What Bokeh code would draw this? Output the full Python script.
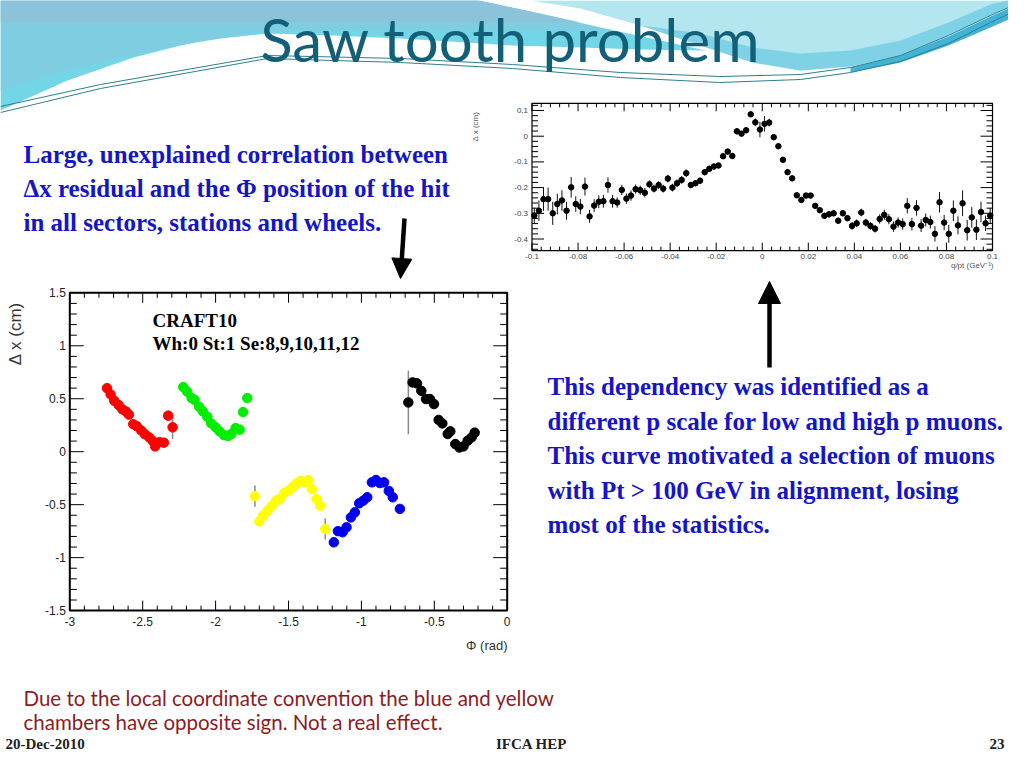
import numpy as np
from bokeh.plotting import figure
from bokeh.models import Range1d, ColumnDataSource, Arrow, NormalHead
from bokeh.core.properties import value
from bokeh.embed import file_html
from bokeh.resources import INLINE

# ---------------- data: top-right plot (mean dx residual vs q/pt) ----------------
qpt = [-0.099, -0.097, -0.095, -0.093, -0.091, -0.089, -0.087, -0.085, -0.083, -0.081,
       -0.079, -0.077, -0.075, -0.073, -0.071, -0.069, -0.067, -0.065, -0.063, -0.061,
       -0.059, -0.057, -0.055, -0.053, -0.051, -0.049, -0.047, -0.045, -0.043, -0.041,
       -0.039, -0.037, -0.035, -0.033, -0.031, -0.029, -0.027, -0.025, -0.023, -0.021,
       -0.019, -0.017, -0.015, -0.013, -0.011, -0.009, -0.007, -0.005, -0.003, -0.001,
       0.001, 0.003, 0.005, 0.007, 0.009, 0.011, 0.013, 0.015, 0.017, 0.019,
       0.021, 0.023, 0.025, 0.027, 0.029, 0.031, 0.033, 0.035, 0.037, 0.039,
       0.041, 0.043, 0.045, 0.047, 0.049, 0.051, 0.053, 0.055, 0.057, 0.059,
       0.061, 0.063, 0.065, 0.067, 0.069, 0.071, 0.073, 0.075, 0.077, 0.079,
       0.081, 0.083, 0.085, 0.087, 0.089, 0.091, 0.093, 0.095, 0.097, 0.099]
dx_qpt = [-0.309, -0.290, -0.245, -0.245, -0.300, -0.264, -0.250, -0.290, -0.199, -0.264,
          -0.274, -0.196, -0.312, -0.270, -0.255, -0.253, -0.190, -0.253, -0.258, -0.209,
          -0.243, -0.231, -0.206, -0.210, -0.220, -0.187, -0.204, -0.190, -0.204, -0.165,
          -0.200, -0.183, -0.170, -0.144, -0.190, -0.183, -0.173, -0.140, -0.127, -0.118,
          -0.114, -0.078, -0.060, -0.077, 0.019, 0.010, 0.023, 0.085, 0.054, 0.026,
          0.048, 0.053, -0.004, -0.039, -0.092, -0.140, -0.164, -0.230, -0.248, -0.231,
          -0.231, -0.271, -0.288, -0.310, -0.304, -0.300, -0.329, -0.300, -0.319, -0.349,
          -0.339, -0.297, -0.336, -0.349, -0.360, -0.322, -0.306, -0.323, -0.352, -0.336,
          -0.342, -0.271, -0.342, -0.279, -0.348, -0.326, -0.334, -0.380, -0.257, -0.336,
          -0.380, -0.290, -0.347, -0.261, -0.366, -0.316, -0.364, -0.295, -0.339, -0.309]
err_qpt = [0.030, 0.040, 0.045, 0.045, 0.045, 0.040, 0.040, 0.035, 0.040, 0.030,
           0.030, 0.035, 0.025, 0.025, 0.025, 0.025, 0.030, 0.025, 0.020, 0.020,
           0.020, 0.020, 0.018, 0.018, 0.018, 0.015, 0.015, 0.015, 0.015, 0.015,
           0.015, 0.015, 0.015, 0.015, 0.012, 0.012, 0.012, 0.012, 0.012, 0.012,
           0.010, 0.010, 0.010, 0.010, 0.012, 0.010, 0.010, 0.010, 0.015, 0.030,
           0.030, 0.015, 0.010, 0.010, 0.010, 0.010, 0.010, 0.010, 0.010, 0.010,
           0.010, 0.010, 0.010, 0.012, 0.012, 0.012, 0.012, 0.012, 0.012, 0.015,
           0.015, 0.015, 0.015, 0.015, 0.015, 0.018, 0.020, 0.020, 0.020, 0.020,
           0.022, 0.030, 0.025, 0.030, 0.025, 0.025, 0.025, 0.030, 0.040, 0.030,
           0.035, 0.040, 0.035, 0.050, 0.040, 0.040, 0.040, 0.040, 0.030, 0.030]

qpt_xticks = [-0.1, -0.08, -0.06, -0.04, -0.02, 0.0, 0.02, 0.04, 0.06, 0.08, 0.1]
qpt_xlabels = ["-0.1", "-0.08", "-0.06", "-0.04", "-0.02", "0", "0.02", "0.04", "0.06", "0.08", "0.1"]
qpt_yticks = [-0.4, -0.3, -0.2, -0.1, 0.0, 0.1]
qpt_ylabels = ["-0.4", "-0.3", "-0.2", "-0.1", "0", "0.1"]

# ---------------- data: bottom-left plot (dx residual vs phi, sectors 8..12) ----------------
red_phi = [-2.745, -2.72, -2.695, -2.665, -2.64, -2.615, -2.595, -2.565, -2.54, -2.51,
           -2.485, -2.455, -2.43, -2.415, -2.385, -2.355, -2.325, -2.295]
red_dx = [0.60, 0.54, 0.48, 0.44, 0.40, 0.38, 0.35, 0.26, 0.24, 0.20,
          0.165, 0.135, 0.10, 0.05, 0.09, 0.085, 0.34, 0.23]
red_err = [0.02, 0.02, 0.02, 0.02, 0.02, 0.02, 0.02, 0.02, 0.02, 0.02,
           0.02, 0.02, 0.02, 0.02, 0.02, 0.02, 0.05, 0.11]

green_phi = [-2.222, -2.195, -2.165, -2.144, -2.114, -2.087, -2.057, -2.03, -2.0, -1.973,
             -1.943, -1.915, -1.892, -1.863, -1.835, -1.812, -1.783]
green_dx = [0.61, 0.566, 0.506, 0.49, 0.425, 0.38, 0.33, 0.267, 0.23, 0.192,
            0.157, 0.148, 0.167, 0.223, 0.208, 0.374, 0.506]
green_err = [0.02, 0.02, 0.02, 0.02, 0.02, 0.02, 0.02, 0.02, 0.02, 0.02,
             0.02, 0.02, 0.02, 0.02, 0.02, 0.02, 0.02]

yellow_phi = [-1.73, -1.70, -1.674, -1.644, -1.614, -1.587, -1.56, -1.53, -1.50, -1.473,
              -1.445, -1.415, -1.392, -1.365, -1.34, -1.308, -1.283, -1.248]
yellow_dx = [-0.42, -0.657, -0.60, -0.557, -0.51, -0.462, -0.447, -0.39, -0.368, -0.336,
             -0.30, -0.274, -0.29, -0.267, -0.352, -0.447, -0.51, -0.73]
yellow_err = [0.10, 0.02, 0.02, 0.02, 0.02, 0.02, 0.02, 0.02, 0.02, 0.02,
              0.02, 0.02, 0.02, 0.02, 0.02, 0.02, 0.02, 0.10]

blue_phi = [-1.189, -1.161, -1.129, -1.102, -1.072, -1.045, -1.015, -0.987, -0.96, -0.928,
            -0.90, -0.873, -0.845, -0.812, -0.785, -0.736]
blue_dx = [-0.855, -0.75, -0.76, -0.714, -0.62, -0.572, -0.487, -0.462, -0.43, -0.289,
           -0.267, -0.296, -0.289, -0.37, -0.43, -0.54]
blue_err = [0.02, 0.02, 0.02, 0.02, 0.02, 0.02, 0.02, 0.02, 0.02, 0.02,
            0.02, 0.02, 0.02, 0.02, 0.02, 0.02]

black_phi = [-0.678, -0.649, -0.619, -0.589, -0.557, -0.53, -0.502, -0.47, -0.445, -0.408,
             -0.39, -0.356, -0.328, -0.30, -0.271, -0.244, -0.223]
black_dx = [0.465, 0.654, 0.645, 0.575, 0.497, 0.497, 0.45, 0.30, 0.267, 0.167,
            0.192, 0.072, 0.04, 0.05, 0.104, 0.135, 0.18]
black_err = [0.30, 0.02, 0.02, 0.02, 0.02, 0.02, 0.02, 0.02, 0.02, 0.02,
             0.02, 0.02, 0.02, 0.02, 0.02, 0.02, 0.02]

sectors = [
    (red_phi, red_dx, red_err, "#ff0000"),
    (green_phi, green_dx, green_err, "#00ee00"),
    (yellow_phi, yellow_dx, yellow_err, "#ffff00"),
    (blue_phi, blue_dx, blue_err, "#0000f0"),
    (black_phi, black_dx, black_err, "#000000"),
]

phi_xticks = [-3.0, -2.5, -2.0, -1.5, -1.0, -0.5, 0.0]
phi_xlabels = ["-3", "-2.5", "-2", "-1.5", "-1", "-0.5", "0"]
phi_yticks = [-1.5, -1.0, -0.5, 0.0, 0.5, 1.0, 1.5]
phi_ylabels = ["-1.5", "-1", "-0.5", "0", "0.5", "1", "1.5"]

# ---------------- slide texts ----------------
title_text = "Saw tooth problem"
left_lines = ["Large, unexplained correlation between",
              "\u0394x residual and the \u03a6 position of the hit",
              "in all sectors, stations and wheels."]
right_lines = ["This dependency was identified as a",
               "different p scale for low and high p muons.",
               "This curve motivated a selection of muons",
               "with Pt > 100 GeV in alignment, losing",
               "most of the statistics."]
bottom_lines = ["Due to the local coordinate convention the blue and yellow",
                "chambers  have opposite sign. Not a real effect."]
craft_lines = ["CRAFT10", "Wh:0 St:1 Se:8,9,10,11,12"]
footer_left, footer_mid, footer_right = "20-Dec-2010", "IFCA HEP", "23"

# ---------------- figure: one slide canvas in slide pixels ----------------
W, H = 1008, 752
p = figure(width=W, height=H, x_range=Range1d(0, W), y_range=Range1d(H, 0),
           x_axis_type=None, y_axis_type=None, toolbar_location=None,
           output_backend="svg", min_border=0, outline_line_color=None,
           background_fill_color="white", border_fill_color="white")
p.min_border_left = p.min_border_right = p.min_border_top = p.min_border_bottom = 0


def lin_range(v0, px0, v1, px1, pa, pb):
    k = (v1 - v0) / (px1 - px0)
    return Range1d(start=v0 + (pa - px0) * k, end=v0 + (pb - px0) * k)


# calibration of the two embedded plots (value, pixel, value, pixel)
TR_X = (-0.1, 531.5, 0.1, 992.0)
TR_Y = (0.0, 135.7, 0.1, 110.0)
BL_X = (-3.0, 69.3, 0.0, 506.7)
BL_Y = (0.0, 451.2, 1.5, 292.3)
p.extra_x_ranges = {"trx": lin_range(*TR_X, 0, W), "blx": lin_range(*BL_X, 0, W)}
p.extra_y_ranges = {"try": lin_range(*TR_Y, H, 0), "bly": lin_range(*BL_Y, H, 0)}

# ---------------- header decoration ----------------
hdr_left_x = [0, 478, 540, 600, 660, 705, 640, 580, 512, 400, 333, 267, 200, 133, 67, 0]
hdr_left_y = [0, 0, 13, 27, 40, 50, 49, 47, 45, 38, 35, 33, 40, 57, 80, 110]
p.patch(hdr_left_x, hdr_left_y, fill_color="#72d6e7", line_color=None)
p.patch([0, 478, 612, 267, 160, 60, 0], [0, 0, 30, 30, 48, 72, 90],
        fill_color="#7fcde1", line_color=None)
p.patch([0, 478, 580, 0], [0, 0, 22, 22], fill_color="#8bc4da", line_color=None)

hdr_right_x = [530, 1024, 1024, 990, 948, 900, 850, 800, 752, 700, 640, 580]
hdr_right_y = [0, 0, 0, 15, 35, 55, 66, 70, 62, 45, 25, 8]
p.patch(hdr_right_x, hdr_right_y, fill_color="#b3e6ef", line_color=None)
p.patch([640, 700, 752, 800, 850, 900, 948, 990, 1024, 1024, 990, 948, 900, 850, 800, 752, 700],
        [25, 45, 62, 70, 66, 55, 35, 15, 0, -4, 4, 22, 40, 50, 53, 47, 33],
        fill_color="#7fd2e6", line_color=None)
p.patch([850, 900, 948, 990, 1024, 1024, 990, 948, 900, 850],
        [67, 55, 36, 16, 1, 12, 27, 45, 62, 72], fill_color="#42b3d4", line_color=None)

lineA_x = [0, 100, 267, 400, 512, 620, 719, 800, 850, 900, 948, 990, 1024]
lineA_y = [106, 84, 55, 58, 64, 72, 76, 74, 67, 55, 35, 15, 0]
lineB_y = [112, 88, 58, 62, 68, 77, 82, 79, 72, 61, 43, 22, 6]
p.line(lineA_x, lineA_y, line_color="#2f7f90", line_width=1)
p.line(lineA_x, lineB_y, line_color="#2f7f90", line_width=1)

# ---------------- title ----------------
p.text(x=[510], y=[38], text=[title_text], text_font=value("Lato"), text_font_size="60px",
       text_color="#135f78", text_align="center", text_baseline="middle")


# ---------------- embedded ROOT-style plots ----------------
def root_frame(xr, yr, xlim, ylim, kx, ky, xmaj, xminor, ymaj, yminor,
               lx, ly, lw):
    x0, x1 = xlim
    y0, y1 = ylim
    p.quad(left=[x0], right=[x1], bottom=[y0], top=[y1], fill_color=None,
           line_color="black", line_width=lw, x_range_name=xr, y_range_name=yr)
    sx0, sy0, sx1, sy1 = [], [], [], []
    for ticks, ln in ((xmaj, lx[0]), (xminor, lx[1])):
        for t in ticks:
            sx0 += [t, t]; sx1 += [t, t]
            sy0 += [y0, y1]; sy1 += [y0 + ln / ky, y1 - ln / ky]
    for ticks, ln in ((ymaj, ly[0]), (yminor, ly[1])):
        for t in ticks:
            sy0 += [t, t]; sy1 += [t, t]
            sx0 += [x0, x1]; sx1 += [x0 + ln / kx, x1 - ln / kx]
    p.segment(x0=sx0, y0=sy0, x1=sx1, y1=sy1, line_color="black", line_width=1,
              x_range_name=xr, y_range_name=yr)


def minor_ticks(lo, hi, step, majors):
    vals = np.round(np.arange(lo, hi + step / 2, step), 6)
    return [v for v in vals if all(abs(v - m) > step / 10 for m in majors)]


# top-right plot
kx_tr = (TR_X[3] - TR_X[1]) / (TR_X[2] - TR_X[0])
ky_tr = (TR_Y[1] - TR_Y[3]) / (TR_Y[2] - TR_Y[0])
tr_ylim = (-0.445, 0.128)
root_frame("trx", "try", (-0.1, 0.1), tr_ylim, kx_tr, ky_tr,
           qpt_xticks, minor_ticks(-0.1, 0.1, 0.004, qpt_xticks),
           qpt_yticks, minor_ticks(-0.44, 0.12, 0.02, qpt_yticks),
           (8, 4), (12, 6), 1.2)
tr_src = ColumnDataSource(dict(x=qpt, y=dx_qpt,
                               lo=np.array(dx_qpt) - np.array(err_qpt),
                               hi=np.array(dx_qpt) + np.array(err_qpt)))
p.segment(x0="x", y0="lo", x1="x", y1="hi", source=tr_src, line_color="#111111",
          line_width=1, x_range_name="trx", y_range_name="try")
p.scatter(x="x", y="y", source=tr_src, size=5.5, color="black",
          x_range_name="trx", y_range_name="try")
p.text(x=qpt_xticks, y=[tr_ylim[0]] * len(qpt_xticks), text=qpt_xlabels,
       x_range_name="trx", y_range_name="try", text_font=value("Liberation Sans"),
       text_font_size="8px", text_color="#444444", text_align="center",
       text_baseline="top", y_offset=3)
p.text(x=[-0.1] * len(qpt_yticks), y=qpt_yticks, text=qpt_ylabels,
       x_range_name="trx", y_range_name="try", text_font=value("Liberation Sans"),
       text_font_size="8px", text_color="#444444", text_align="right",
       text_baseline="middle", x_offset=-4)
p.text(x=[475], y=[126], text=["\u0394 x (cm)"], angle=np.pi / 2,
       text_font=value("Liberation Sans"), text_font_size="8px", text_color="#555555",
       text_align="center", text_baseline="middle")
p.text(x=[993], y=[265], text=["q/pt (GeV\u207b\u00b9)"],
       text_font=value("Liberation Sans"), text_font_size="8px", text_color="#555555",
       text_align="right", text_baseline="middle")

# bottom-left plot
kx_bl = (BL_X[3] - BL_X[1]) / (BL_X[2] - BL_X[0])
ky_bl = (BL_Y[1] - BL_Y[3]) / (BL_Y[2] - BL_Y[0])
root_frame("blx", "bly", (-3.0, 0.0), (-1.5, 1.5), kx_bl, ky_bl,
           phi_xticks, minor_ticks(-3.0, 0.0, 0.1, phi_xticks),
           phi_yticks, minor_ticks(-1.5, 1.5, 0.1, phi_yticks),
           (10, 5), (14, 7), 2)
for phi, dx, err, col in sectors:
    src = ColumnDataSource(dict(x=phi, y=dx,
                                lo=np.array(dx) - np.array(err),
                                hi=np.array(dx) + np.array(err)))
    p.segment(x0="x", y0="lo", x1="x", y1="hi", source=src, line_color="#8a8a8a",
              line_width=1.5, x_range_name="blx", y_range_name="bly")
    p.scatter(x="x", y="y", source=src, size=9.5, fill_color=col, line_color=col,
              x_range_name="blx", y_range_name="bly")
sans = value("Liberation Sans")
p.text(x=phi_xticks, y=[-1.5] * len(phi_xticks), text=phi_xlabels,
       x_range_name="blx", y_range_name="bly", text_font=sans,
       text_font_size="12px", text_color="#222222", text_align="center",
       text_baseline="top", y_offset=6)
p.text(x=[-3.0] * len(phi_yticks), y=phi_yticks, text=phi_ylabels,
       x_range_name="blx", y_range_name="bly", text_font=sans,
       text_font_size="12px", text_color="#222222", text_align="right",
       text_baseline="middle", x_offset=-4)
p.text(x=[15], y=[333], text=["\u0394 x (cm)"], angle=np.pi / 2,
       text_font=sans, text_font_size="17px", text_color="#333333",
       text_align="center", text_baseline="middle")
p.text(x=[507], y=[645], text=["\u03a6 (rad)"], text_font=sans,
       text_font_size="13px", text_color="#333333", text_align="right",
       text_baseline="middle")
p.text(x=[152, 152], y=[320, 343], text=craft_lines, text_font=value("Liberation Serif"),
       text_font_style="bold", text_font_size="19px", text_color="black",
       text_align="left", text_baseline="middle")

# ---------------- slide text blocks ----------------
p.text(x=[23] * 3, y=[154, 188, 222], text=left_lines, text_font=value("Liberation Serif"),
       text_font_style="bold", text_font_size="25px", text_color="#1515c8",
       text_align="left", text_baseline="middle")
p.text(x=[547] * 5, y=[386, 421, 455, 490, 524], text=right_lines,
       text_font=value("Liberation Serif"), text_font_style="bold",
       text_font_size="25px", text_color="#1515c8", text_align="left",
       text_baseline="middle")
p.text(x=[23, 23], y=[697, 721], text=bottom_lines, text_font=value("Lato"),
       text_font_size="20.5px", text_color="#8c1c24", text_align="left",
       text_baseline="middle")
p.text(x=[5], y=[743], text=[footer_left], text_font=value("Liberation Serif"),
       text_font_style="bold", text_font_size="15px", text_color="#222222",
       text_align="left", text_baseline="middle")
p.text(x=[531], y=[743], text=[footer_mid], text_font=value("Liberation Serif"),
       text_font_style="bold", text_font_size="15px", text_color="#222222",
       text_align="center", text_baseline="middle")
p.text(x=[1004], y=[743], text=[footer_right], text_font=value("Liberation Serif"),
       text_font_style="bold", text_font_size="15px", text_color="#222222",
       text_align="right", text_baseline="middle")

# ---------------- arrows ----------------
p.add_layout(Arrow(end=NormalHead(size=20, fill_color="black", line_color="black"),
                   x_start=404, y_start=218, x_end=400, y_end=278,
                   line_color="black", line_width=4.5))
p.add_layout(Arrow(end=NormalHead(size=22, fill_color="black", line_color="black"),
                   x_start=769, y_start=367, x_end=769, y_end=281,
                   line_color="black", line_width=4.5))

open("out.html", "w").write(file_html(p, INLINE))
